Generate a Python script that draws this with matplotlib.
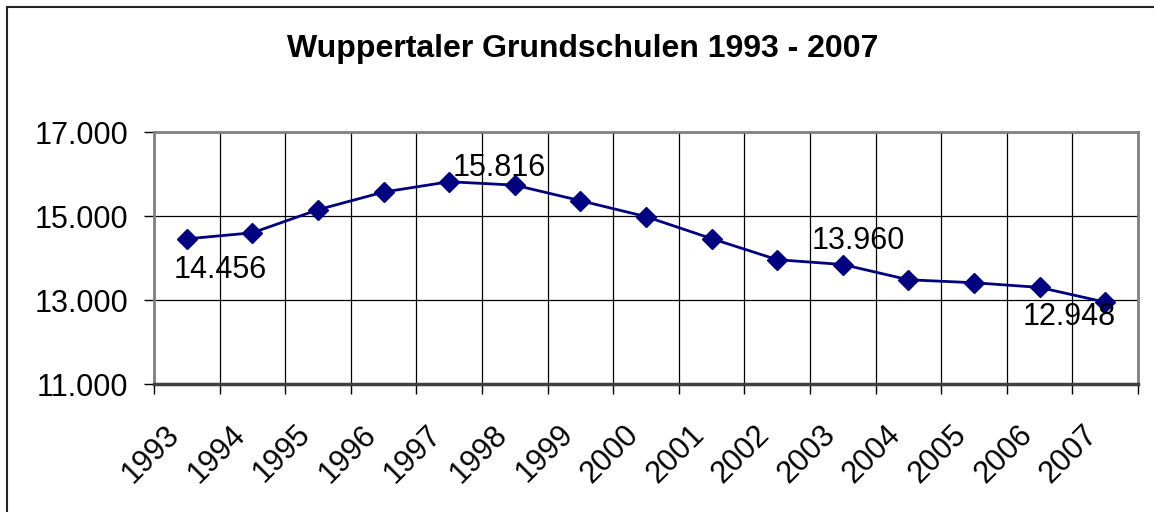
import matplotlib.pyplot as plt
import matplotlib.transforms as mtransforms
from matplotlib.patches import Rectangle

plt.rcParams['font.family'] = ['Liberation Sans', 'DejaVu Sans']

years = ['1993', '1994', '1995', '1996', '1997', '1998', '1999', '2000',
         '2001', '2002', '2003', '2004', '2005', '2006', '2007']
schueler = [14456, 14600, 15150, 15570, 15816, 15735, 15365, 14985,
            14462, 13960, 13845, 13482, 13411, 13300, 12948]
# which points carry a label, and the label offset (pixels, y up)
label_idx = [0, 4, 9, 14]
label_off = [(33, -31), (50, 14), (81, 19), (-36, -15)]


def fmt(v):
    return f'{v:,.0f}'.replace(',', '.')


fig = plt.figure(figsize=(11.54, 5.12), dpi=100)
ax = fig.add_axes([154 / 1154, 1 - 384 / 512, (1138 - 154) / 1154, (384 - 132) / 512])

# outer chart frame
fig.patches.append(Rectangle((7 / 1154, -0.1), 1.2, 1 - 7 / 512 + 0.1,
                             transform=fig.transFigure, fill=False,
                             edgecolor='#222222', linewidth=1.5))

x = [i + 0.5 for i in range(len(years))]
ax.plot(x, schueler, color='#000080', linewidth=2, marker='D', markersize=10,
        zorder=5, clip_on=False)

for i, (dx, dy) in zip(label_idx, label_off):
    ax.annotate(fmt(schueler[i]), xy=(x[i], schueler[i]), xytext=(dx, dy),
                textcoords='offset pixels', ha='center', va='center',
                fontsize=22, color='black', zorder=6)

ax.set_xlim(0, len(years))
ax.set_ylim(11000, 17000)
ax.set_yticks([11000, 13000, 15000, 17000])
ax.set_yticklabels([fmt(v) for v in [11000, 13000, 15000, 17000]], fontsize=22)

ax.set_xticks(range(len(years) + 1))
ax.set_xticklabels([])
ax.set_xticks(x, minor=True)
ax.set_xticklabels(years, minor=True, fontsize=22, rotation=45,
                   ha='right', va='center', rotation_mode='anchor')
ax.tick_params(axis='x', which='minor', length=0, pad=0)
ax.tick_params(axis='x', which='major', length=7.5, width=1, direction='out', color='black')
ax.tick_params(axis='y', length=7.5, width=1, direction='out', color='black', pad=11)

shift = mtransforms.ScaledTranslation(-12 / 100, -46 / 100, fig.dpi_scale_trans)
for lab in ax.get_xticklabels(minor=True):
    lab.set_transform(lab.get_transform() + shift)

ax.grid(True, which='major', color='black', linewidth=0.9)
ax.set_axisbelow(True)
for side in ['top', 'right', 'left']:
    ax.spines[side].set_color('#808080')
    ax.spines[side].set_linewidth(2)
ax.spines['bottom'].set_color('#404040')
ax.spines['bottom'].set_linewidth(2.5)

fig.text(583 / 1154, 1 - 57 / 512, 'Wuppertaler Grundschulen 1993 - 2007',
         ha='center', va='baseline', fontsize=23, fontweight='bold')

fig.savefig('out.png', dpi=100)
